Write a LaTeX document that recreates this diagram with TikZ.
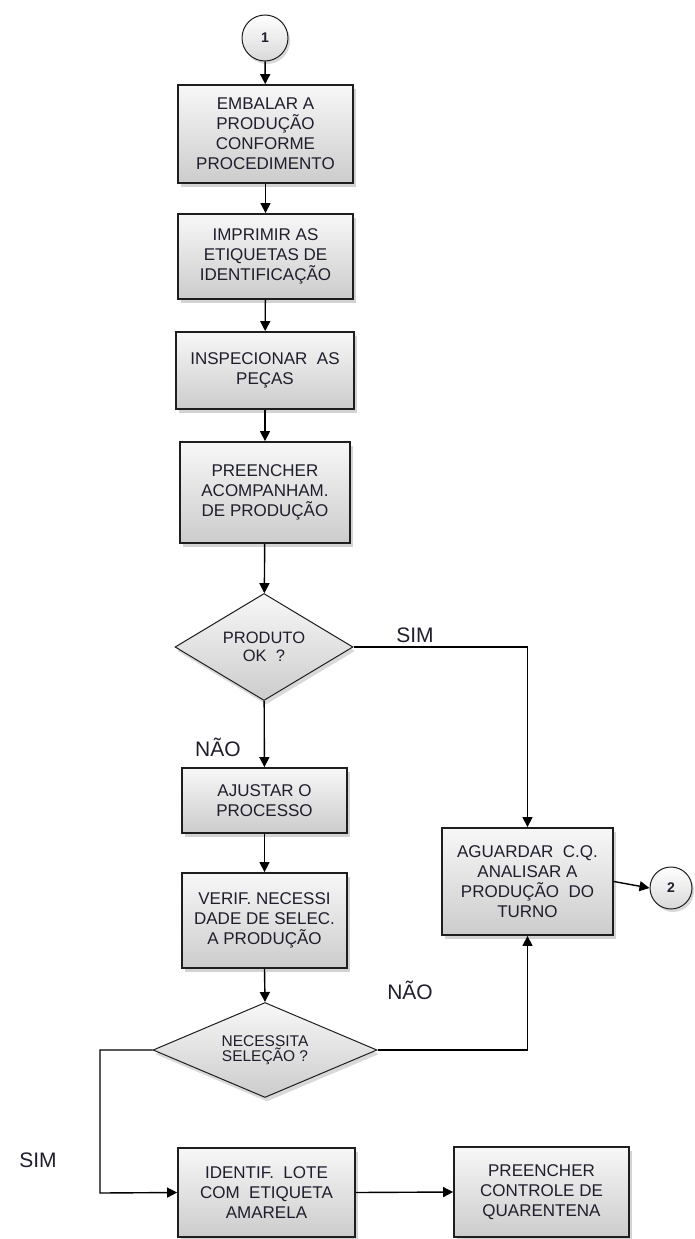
\documentclass[tikz,border=0pt]{standalone}
\usepackage{fontspec}
\setmainfont{Liberation Sans}
\usetikzlibrary{shapes.geometric,shadows,arrows.meta}
\definecolor{txt}{RGB}{30,30,45}
\definecolor{edge}{RGB}{30,30,30}
\tikzset{
  procbox/.style={draw=edge, line width=1.8pt, rectangle, align=center, inner sep=0pt,
    top color=gray!6, bottom color=gray!40, text=txt,
    drop shadow={opacity=0.35, shadow xshift=3pt, shadow yshift=-4pt},
    font=\fontsize{17}{20}\selectfont},
  decis/.style={draw=edge, line width=1pt, diamond, align=center, inner sep=0pt,
    top color=gray!6, bottom color=gray!40, text=txt,
    drop shadow={opacity=0.3, shadow xshift=2pt, shadow yshift=-4pt},
    font=\fontsize{16.5}{18}\selectfont},
  conn/.style={draw=edge, line width=1pt, circle, inner sep=0pt,
    top color=white, bottom color=gray!30, text=txt,
    drop shadow={opacity=0.3, shadow xshift=2pt, shadow yshift=-3pt},
    font=\bfseries\fontsize{14}{16}\selectfont},
  flow/.style={draw=black, line width=1.4pt, -{Triangle[length=10pt,width=10pt]}},
  lbl/.style={text=txt, font=\fontsize{21}{22}\selectfont, inner sep=0pt},
}
\begin{document}
\begin{tikzpicture}[x=1pt,y=-1pt]
\useasboundingbox (0,0) rectangle (694,1239);
\node[conn, minimum size=46pt] (c1) at (265,38) {1};
\node[procbox, minimum width=175pt, minimum height=98pt] (b1) at (265.5,134)
  {EMBALAR A\\PRODUÇÃO\\CONFORME\\PROCEDIMENTO};
\node[procbox, minimum width=175pt, minimum height=85pt] (b2) at (265.5,256.5)
  {IMPRIMIR AS\\ETIQUETAS DE\\IDENTIFICAÇÃO};
\node[procbox, minimum width=178pt, minimum height=77pt] (b3) at (265,370.5)
  {INSPECIONAR\ \ AS\\PEÇAS};
\node[procbox, minimum width=170pt, minimum height=101pt] (b4) at (265,492.5)
  {PREENCHER\\ACOMPANHAM.\\DE PRODUÇÃO};
\node[decis, aspect=1.66, minimum width=178pt, minimum height=107pt] (d1) at (264,647)
  {PRODUTO\\OK\ \ ?};
\node[procbox, minimum width=165pt, minimum height=65pt] (b5) at (264.5,800.5)
  {AJUSTAR O\\PROCESSO};
\node[procbox, minimum width=165pt, minimum height=95pt] (b6) at (264.5,920.5)
  {VERIF. NECESSI\\DADE DE SELEC.\\A PRODUÇÃO};
\node[decis, aspect=2.36, minimum width=224pt, minimum height=95pt, font=\fontsize{15.5}{15.5}\selectfont] (d2) at (265,1050)
  {NECESSITA\\SELEÇÃO ?};
\node[procbox, minimum width=171pt, minimum height=107pt] (b7) at (527.5,881.5)
  {AGUARDAR\ \ C.Q.\\ANALISAR A\\PRODUÇÃO\ \ DO\\TURNO};
\node[conn, minimum size=42pt] (c2) at (671,888) {2};
\node[procbox, minimum width=177pt, minimum height=89pt] (b8) at (266.5,1192.5)
  {IDENTIF.\ \ LOTE\\COM\ \ ETIQUETA\\AMARELA};
\node[procbox, minimum width=175pt, minimum height=90pt] (b9) at (541.5,1192)
  {PREENCHER\\CONTROLE DE\\QUARENTENA};
\coordinate (sl) at (100,1050);
\coordinate (sb) at (100,1193);
% connectors
\draw[flow] (c1) -- (b1);
\draw[flow] (b1) -- (b2);
\draw[flow] (b2) -- (b3);
\draw[flow] (b3) -- (b4);
\draw[flow] (b4) -- (d1);
\draw[flow] (d1) -- (b5);
\draw[flow] (b5) -- (b6);
\draw[flow] (b6.south) -- (d2.north);
\draw[flow] (d1.east) -| (b7.north);
\draw[flow] (d2.east) -| (b7.south);
\draw[flow] (b7.east) -- (c2.west);
\draw[flow] (d2.west) -- (sl) -- (sb) -- (b8.west);
\draw[flow] (b8.east) -- (b9.west);
% labels
\node[lbl] (l1) at (415,635) {SIM};
\node[lbl] (l2) at (218,747) {NÃO};
\node[lbl] (l3) at (410,990) {NÃO};
\node[lbl] (l4) at (38,1160) {SIM};
\end{tikzpicture}
\end{document}
